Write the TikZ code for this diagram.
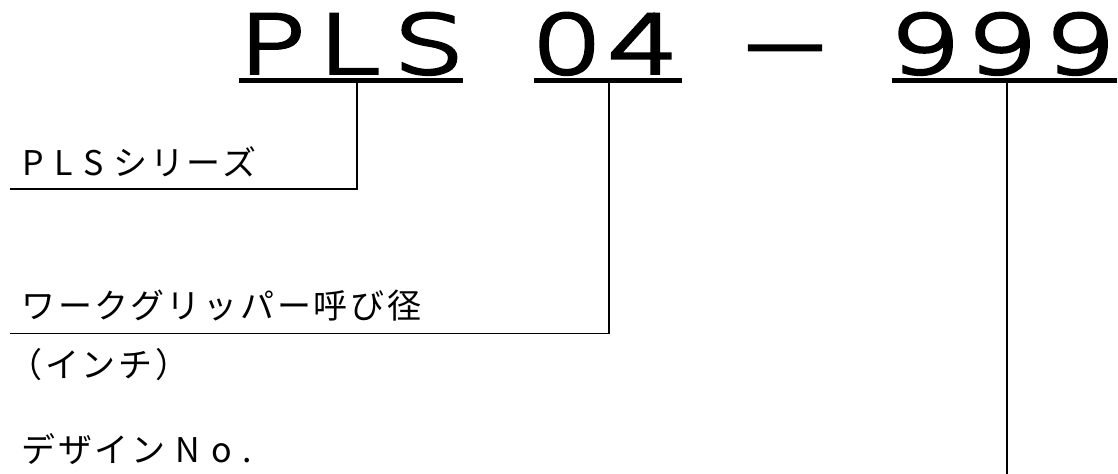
\documentclass[tikz,border=0pt]{standalone}
\usepackage{fontspec}
\newfontfamily\codefont{DejaVu Sans ExtraLight}[FakeStretch=1.4, FakeBold=5]
\newfontfamily\jpfont{Noto Sans CJK JP}[LetterSpace=8]
\newfontfamily\jplatin{Noto Sans CJK JP}[LetterSpace=32]

\tikzset{
  code/.style={font=\codefont\fontsize{40}{40}\selectfont, inner sep=0pt, anchor=base},
  label/.style={font=\jpfont\fontsize{17}{17}\selectfont, inner sep=0pt, anchor=west},
  bar/.style={line width=2.8pt},
  lead/.style={line width=0.8pt}
}

\begin{document}
\begin{tikzpicture}[x=0.5pt, y=-0.5pt]
    \useasboundingbox (0, 0) rectangle (1118, 474);

    % model code
    \foreach \ch/\x [count=\i] in {P/272, L/349, S/429, 0/567, 4/643, 9/925, 9/1002, 9/1080}
      \node [code] (c\i) at (\x, 73) {\ch};
    \node [code] (dash) at (785, 73) {−};

    \draw [bar] (239, 80.5) -- (463, 80.5);
    \draw [bar] (534, 80.5) -- (682, 80.5);
    \draw [bar] (892, 80.5) -- (1117, 80.5);

    \coordinate (t1) at (357, 82);
    \coordinate (t2) at (609, 82);
    \coordinate (t3) at (1007, 82);
    \coordinate (e1) at (10, 189);
    \coordinate (e2) at (10, 333.5);
    \coordinate (e3) at (1007, 474);

    \draw [lead] (t1) |- (e1);
    \draw [lead] (t2) |- (e2);
    \draw [lead] (t3) -- (e3);

    % labels
    \node [label] (series) at (22, 161.5) {{\jplatin PLS}\hspace{5pt}シリーズ};
    \node [label] (grip) at (21, 305.5) {ワークグリッパー呼び径};
    \node [label] (inch) at (8, 364.5) {（インチ）};
    \node [label] (design) at (21, 449) {デザイン\hspace{5pt}{\jplatin No.}};
  \end{tikzpicture}
\end{document}
